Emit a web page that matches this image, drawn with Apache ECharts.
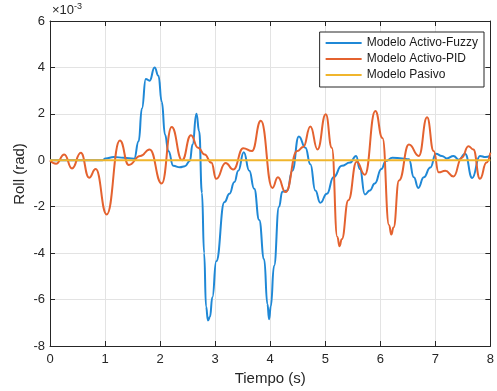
<!DOCTYPE html>
<html>
<head>
<meta charset="utf-8">
<script src="https://cdn.jsdelivr.net/npm/echarts@6/dist/echarts.min.js"></script>
<style>
  html, body { margin: 0; padding: 0; background: #fff; }
  #chart { width: 497px; height: 391px; }
</style>
</head>
<body>
<div id="chart"></div>
<script>
// values in units of 1e-3 rad (axis shows x10^-3)
const xTicks = [0, 1, 2, 3, 4, 5, 6, 7, 8];
const yTicks = [-8, -6, -4, -2, 0, 2, 4, 6];

const fuzzyT = [0, 0.95, 1.01, 1.16, 1.34, 1.53, 1.61, 1.67, 1.74, 1.81, 1.90, 1.97, 2.03, 2.09, 2.15, 2.24, 2.36, 2.45, 2.54, 2.59, 2.66, 2.71, 2.76, 2.80, 2.835, 2.87, 2.905, 2.95, 3.02, 3.17, 3.26, 3.35, 3.42, 3.52, 3.62, 3.71, 3.80, 3.89, 3.95, 3.98, 4.01, 4.07, 4.16, 4.22, 4.31, 4.40, 4.52, 4.64, 4.73, 4.82, 4.91, 5.03, 5.15, 5.30, 5.45, 5.56, 5.63, 5.72, 5.81, 5.90, 6.02, 6.10, 6.22, 6.40, 6.52, 6.61, 6.69, 6.79, 6.91, 7.01, 7.12, 7.21, 7.33, 7.43, 7.54, 7.67, 7.81, 7.91, 8.0];
const fuzzyY = [0, 0, 0.08, 0.14, 0.11, 0.07, 0.82, 2.23, 3.5, 3.43, 4.0, 3.64, 2.52, 1.1, 0.4, -0.24, -0.3, -0.26, -0.03, 0.68, 2.0, 1.25, -1.4, -4.0, -6.3, -6.9, -6.75, -5.9, -4.35, -1.8, -1.44, -0.94, -0.45, 0.35, -0.45, -1.23, -2.57, -4.26, -6.2, -6.85, -6.3, -4.55, -2.0, -1.35, -1.3, -0.45, 1.03, 0.54, -0.17, -1.3, -1.83, -1.44, -0.73, -0.24, -0.1, 0.19, -0.38, -1.47, -1.3, -1.0, -0.38, -0.03, 0.11, 0.08, 0.04, -0.73, -1.19, -0.73, -0.31, 0.28, 0.19, 0.08, 0.19, 0.02, 0.28, -0.76, 0.19, 0.14, 0.2];

const pidT = [0, 0.11, 0.26, 0.40, 0.56, 0.71, 0.83, 1.03, 1.27, 1.43, 1.64, 1.81, 2.03, 2.21, 2.40, 2.56, 2.69, 2.81, 2.93, 3.02, 3.19, 3.33, 3.51, 3.67, 3.83, 4.04, 4.14, 4.28, 4.49, 4.60, 4.73, 4.86, 5.01, 5.12, 5.22, 5.26, 5.30, 5.42, 5.57, 5.72, 5.91, 6.04, 6.16, 6.20, 6.24, 6.34, 6.52, 6.70, 6.85, 6.97, 7.06, 7.18, 7.33, 7.48, 7.60, 7.69, 7.81, 7.93, 8.0];
const pidY = [0, -0.15, 0.25, -0.35, 0.32, -0.75, -0.38, -2.33, 0.85, -0.2, 0.18, 0.47, -1.0, 1.43, 0.0, 1.08, 0.54, 0.25, -0.1, -0.8, -0.12, -0.4, 0.52, 0.4, 1.7, -1.19, -0.73, -1.37, 0.4, 0.57, 1.46, 0.47, 1.98, 0.54, -3.3, -3.7, -3.4, -1.72, -0.06, -0.62, 2.12, 0.96, -2.8, -3.2, -2.9, -0.87, 0.68, 0.19, 1.85, 0.4, -0.52, -0.45, -0.7, 0.11, 0.61, 0.47, -0.8, -0.1, 0.33];

const pasivoT = [0, 8];
const pasivoY = [0, 0];

const names = ["Modelo Activo-Fuzzy", "Modelo Activo-PID", "Modelo Pasivo"];

const zip = (t, y) => t.map((v, i) => [v, y[i]]);

const font = "'Liberation Sans', Arial, Helvetica, sans-serif";
const axisColor = "#262626";
const gridColor = "#e3e3e3";

const chart = echarts.init(document.getElementById("chart"));

const baseX = {
  type: "value",
  min: xTicks[0],
  max: xTicks[xTicks.length - 1],
  interval: 1,
  axisLine: {show: true, onZero: false, lineStyle: {color: axisColor, width: 1}},
  axisTick: {show: true, inside: true, length: 5, lineStyle: {color: axisColor}},
  splitLine: {show: false}
};
const baseY = {
  type: "value",
  min: yTicks[0],
  max: yTicks[yTicks.length - 1],
  interval: 2,
  axisLine: {show: true, onZero: false, lineStyle: {color: axisColor, width: 1}},
  axisTick: {show: true, inside: true, length: 5, lineStyle: {color: axisColor}},
  splitLine: {show: false}
};

const option = {
  animation: false,
  backgroundColor: "#fff",
  textStyle: {fontFamily: font},
  grid: {left: 50, right: 3, top: 21, bottom: 41, containLabel: false},
  xAxis: [
    Object.assign({}, baseX, {
      position: "bottom",
      name: "Tiempo (s)",
      nameLocation: "middle",
      nameGap: 25,
      nameTextStyle: {color: axisColor, fontSize: 15, fontFamily: font},
      axisLabel: {color: axisColor, fontSize: 13, margin: 7, fontFamily: font},
      splitLine: {show: true, lineStyle: {color: gridColor, width: 1}}
    }),
    Object.assign({}, baseX, {position: "top", axisLabel: {show: false}})
  ],
  yAxis: [
    Object.assign({}, baseY, {
      position: "left",
      axisLabel: {color: axisColor, fontSize: 13, margin: 5, fontFamily: font},
      splitLine: {show: true, lineStyle: {color: gridColor, width: 1}}
    }),
    Object.assign({}, baseY, {position: "right", axisLabel: {show: false}})
  ],
  legend: {
    data: names,
    orient: "vertical",
    right: 13,
    top: 32,
    icon: "rect",
    itemWidth: 36,
    itemHeight: 2,
    itemGap: 2,
    padding: [4, 6, 5, 6],
    backgroundColor: "#fff",
    borderColor: "#262626",
    borderWidth: 1,
    textStyle: {color: "#1a1a1a", fontSize: 12, lineHeight: 14, fontFamily: font}
  },
  graphic: [
    {
      type: "text",
      left: 52,
      top: 2,
      style: {
        text: "×10{s|-3}",
        fill: axisColor,
        font: "13px " + font,
        rich: {s: {fontSize: 9, verticalAlign: "top", padding: [0, 0, 8, 0], fill: axisColor}}
      }
    },
    {
      type: "text",
      x: 20,
      y: 174,
      rotation: Math.PI / 2,
      style: {
        text: "Roll (rad)",
        fill: axisColor,
        font: "15px " + font,
        align: "center",
        verticalAlign: "middle"
      }
    }
  ],
  series: [
    {
      name: names[0],
      type: "line",
      data: zip(fuzzyT, fuzzyY),
      smooth: 0.5,
      smoothMonotone: "x",
      symbol: "none",
      lineStyle: {color: "#1f88d6", width: 2},
      itemStyle: {color: "#1f88d6"}
    },
    {
      name: names[1],
      type: "line",
      data: zip(pidT, pidY),
      smooth: 0.5,
      smoothMonotone: "x",
      symbol: "none",
      lineStyle: {color: "#e4622f", width: 2},
      itemStyle: {color: "#e4622f"}
    },
    {
      name: names[2],
      type: "line",
      data: zip(pasivoT, pasivoY),
      symbol: "none",
      lineStyle: {color: "#f0b52c", width: 2},
      itemStyle: {color: "#f0b52c"}
    }
  ]
};

chart.setOption(option);
</script>
</body>
</html>
